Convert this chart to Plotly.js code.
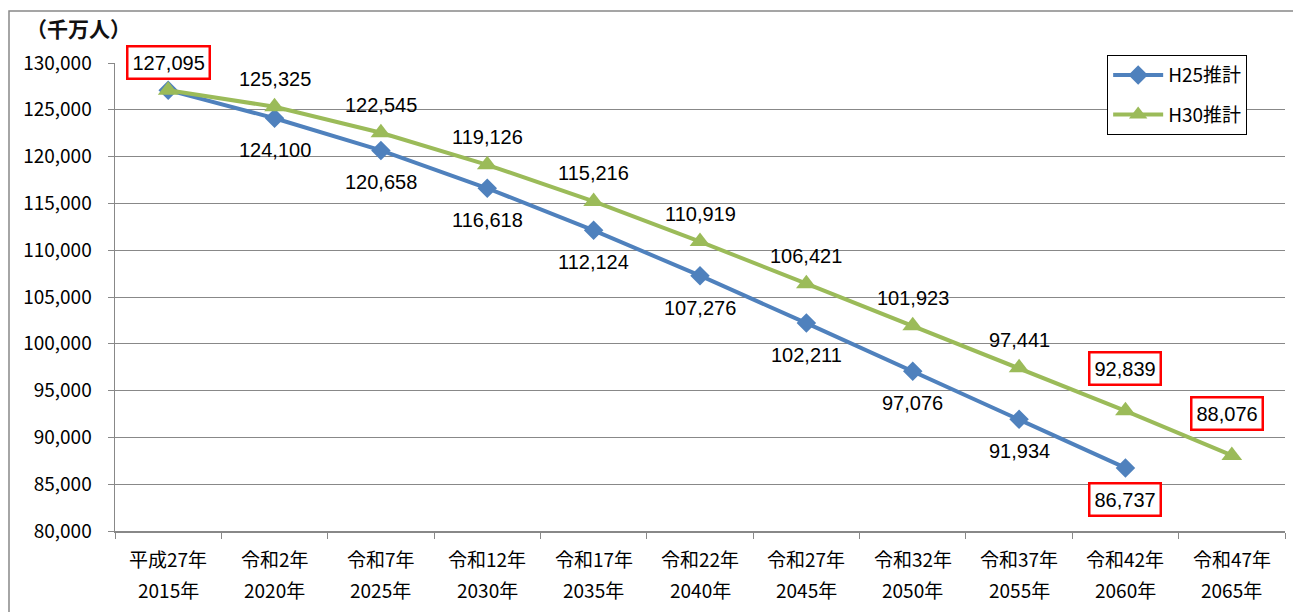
<!DOCTYPE html>
<html>
<head>
<meta charset="utf-8">
<script src="https://cdn.plot.ly/plotly-3.0.1.min.js"></script>
<style>
html,body{margin:0;padding:0;background:#fff;}
#chart{width:1293px;height:612px;}
</style>
</head>
<body>
<div id="chart"></div>
<script>
// ---- data ----
const eraLabels = ["平成27年","令和2年","令和7年","令和12年","令和17年","令和22年","令和27年","令和32年","令和37年","令和42年","令和47年"];
const yearLabels = ["2015年","2020年","2025年","2030年","2035年","2040年","2045年","2050年","2055年","2060年","2065年"];
const h25Values = [127095,124100,120658,116618,112124,107276,102211,97076,91934,86737,null];
const h30Values = [127095,125325,122545,119126,115216,110919,106421,101923,97441,92839,88076];
const seriesNames = ["H25推計","H30推計"];
const unitLabel = "（千万人）";

const cats = yearLabels;
const blue = "#4F81BD", green = "#9BBB59";
const jp = "'Noto Sans CJK JP', 'Noto Sans', sans-serif";
const lab = "'Liberation Sans', Arial, sans-serif";

const fmt = v => v.toLocaleString("en-US");

const traces = [
  {x: cats, y: h25Values, name: seriesNames[0], type: "scatter", mode: "lines+markers",
   legendgroup: "a",
   line: {color: blue, width: 4}, marker: {symbol: "diamond", size: 15, color: blue},
   cliponaxis: false},
  {x: cats, y: h30Values, name: seriesNames[1], type: "scatter", mode: "lines+markers",
   legendgroup: "b",
   line: {color: green, width: 4}, marker: {symbol: "triangle-up", size: 18, color: green},
   cliponaxis: false}
];

const annotations = [];
const lastIdx = arr => { let k = -1; arr.forEach((v,i)=>{ if (v!=null) k=i; }); return k; };
const l25 = lastIdx(h25Values), l30 = lastIdx(h30Values);

h30Values.forEach((v,i)=>{
  if (v==null) return;
  const boxed = (i===0 || i>=l30-1);
  annotations.push({x: cats[i], y: v, xref:"x", yref:"y", text: fmt(v), showarrow:false,
    yshift: (i>=l30-1) ? 42 : 28, xshift: (i===l30) ? -5 : 0,
    font:{family: lab, size: 20, color:"#000"},
    bordercolor: boxed ? "#FF0000" : "rgba(0,0,0,0)", borderwidth: boxed ? 2.5 : 0, borderpad: boxed ? 4 : 0,
    bgcolor: boxed ? "#fff" : "rgba(0,0,0,0)"});
});
h25Values.forEach((v,i)=>{
  if (v==null) return;
  if (v===h30Values[i]) return; // shared value already labelled
  const boxed = (i===l25);
  annotations.push({x: cats[i], y: v, xref:"x", yref:"y", text: fmt(v), showarrow:false,
    yshift: -32,
    font:{family: lab, size: 20, color:"#000"},
    bordercolor: boxed ? "#FF0000" : "rgba(0,0,0,0)", borderwidth: boxed ? 2.5 : 0, borderpad: boxed ? 4 : 0,
    bgcolor: boxed ? "#fff" : "rgba(0,0,0,0)"});
});
// category labels (two lines)
cats.forEach((c,i)=>{
  annotations.push({x: c, y: -0.058, xref:"x", yref:"paper", text: eraLabels[i], showarrow:false,
    yanchor:"middle", font:{family: jp, size: 19, color:"#000"}});
  annotations.push({x: c, y: -0.124, xref:"x", yref:"paper", text: yearLabels[i], showarrow:false,
    yanchor:"middle", font:{family: jp, size: 19, color:"#000"}});
});
annotations.push({x: -0.078, y: 1.074, xref:"paper", yref:"paper", text: "<b>" + unitLabel + "</b>", showarrow:false,
  xanchor:"left", yanchor:"middle", font:{family: jp, size: 21, color:"#111"}});

const layout = {
  width: 1293, height: 612,
  margin: {l:115, r:8, t:63, b:81},
  paper_bgcolor:"#fff", plot_bgcolor:"#fff",
  showlegend: true,
  legend: {x: 0.848, y: 1.017, xanchor:"left", yanchor:"top",
    bgcolor:"#fff", bordercolor:"#000", borderwidth:1,
    font:{family: jp, size: 19, color:"#000"},
    itemwidth: 50,
    traceorder:"grouped", tracegroupgap: 12},
  xaxis: {type:"category", range:[-0.5,10.5], showticklabels:false,
    showline:true, linecolor:"#888", linewidth:1.5,
    ticks:"outside", ticklen:6, tickcolor:"#888", tickson:"boundaries",
    showgrid:false, zeroline:false, fixedrange:true},
  yaxis: {range:[80000,130000], dtick:5000, tick0:80000, tickformat:",d",
    showline:true, linecolor:"#888", linewidth:1.5,
    ticks:"outside", ticklen:6, tickcolor:"#888", ticklabelstandoff: 12,
    showgrid:true, gridcolor:"#888", gridwidth:1, zeroline:false,
    tickfont:{family: jp, size: 19, color:"#000"}, fixedrange:true},
  annotations: annotations,
  shapes: [
    {type:"rect", xref:"paper", yref:"paper", x0:-0.0906, x1:1.1, y0:-0.4, y1:1.111,
     line:{color:"#888", width:1.5}, fillcolor:"rgba(0,0,0,0)", layer:"below"}
  ]
};

Plotly.newPlot("chart", traces, layout, {displayModeBar:false, staticPlot:true});
</script>
</body>
</html>
